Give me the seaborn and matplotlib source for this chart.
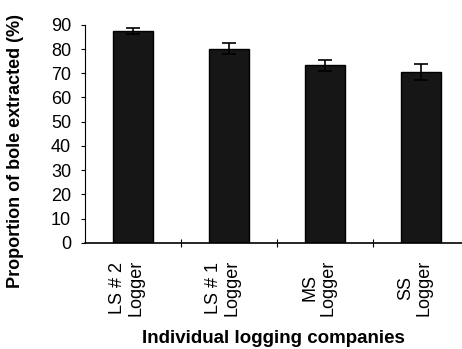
import matplotlib
matplotlib.use("Agg")
import matplotlib.pyplot as plt
import matplotlib.transforms as mtransforms
import seaborn as sns
import pandas as pd

# Share of bole volume extracted by each logging company
companies = ["LS # 2\nLogger", "LS # 1\nLogger", "MS\nLogger", "SS\nLogger"]
extracted = [87.5, 80.2, 73.2, 70.6]
std_err = [1.2, 2.1, 2.3, 3.3]
y_ticks = [0, 10, 20, 30, 40, 50, 60, 70, 80, 90]

sns.set_style("ticks")
plt.rcParams["font.family"] = ["Liberation Sans", "DejaVu Sans"]
plt.rcParams["text.color"] = "black"
plt.rcParams["axes.labelcolor"] = "black"
plt.rcParams["xtick.color"] = "black"
plt.rcParams["ytick.color"] = "black"
plt.rcParams["axes.edgecolor"] = "black"

df = pd.DataFrame({"company": companies, "extracted": extracted})

fig = plt.figure(figsize=(4.62, 3.49), dpi=100)
ax = fig.add_axes([0.184, 0.304, 0.816, 0.625])

sns.barplot(data=df, x="company", y="extracted", color="#161616",
            saturation=1, width=0.42, edgecolor="black", linewidth=1,
            errorbar=None, ax=ax)

centers = [p.get_x() + p.get_width() / 2 for p in ax.patches]
ax.errorbar(centers, extracted, yerr=std_err, fmt="none", ecolor="black",
            elinewidth=1.2, capsize=5, capthick=1.2)

ax.set_ylim(0, 90)
ax.set_xlim(-0.5, 3.43)
ax.set_yticks(y_ticks)
ax.set_yticklabels([str(t) for t in y_ticks], fontsize=13)
ax.tick_params(axis="y", direction="out", length=3, width=0.8, pad=7)

ax.set_xticks(range(len(companies)))
ax.set_xticklabels(companies, rotation=90, fontsize=13, va="top",
                   ha="center", linespacing=1.1)
ax.tick_params(axis="x", length=0, pad=12)
shift = mtransforms.ScaledTranslation(-6 / 100, 0, fig.dpi_scale_trans)
for lbl in ax.get_xticklabels():
    lbl.set_transform(lbl.get_transform() + shift)
ax.set_xticks([0.5, 1.5, 2.5], minor=True)
ax.tick_params(axis="x", which="minor", direction="inout", length=6, width=0.8)

ax.set_xlabel("Individual logging companies", fontsize=13.5, fontweight="bold",
              labelpad=10)
ax.set_ylabel("Proportion of bole extracted (%)", fontsize=13,
              fontweight="bold")
ax.yaxis.set_label_coords(-0.162, 0.42)

sns.despine(ax=ax, top=True, right=True)
ax.spines["left"].set_linewidth(0.8)
ax.spines["bottom"].set_linewidth(1.2)

fig.savefig("out.png", dpi=100)
